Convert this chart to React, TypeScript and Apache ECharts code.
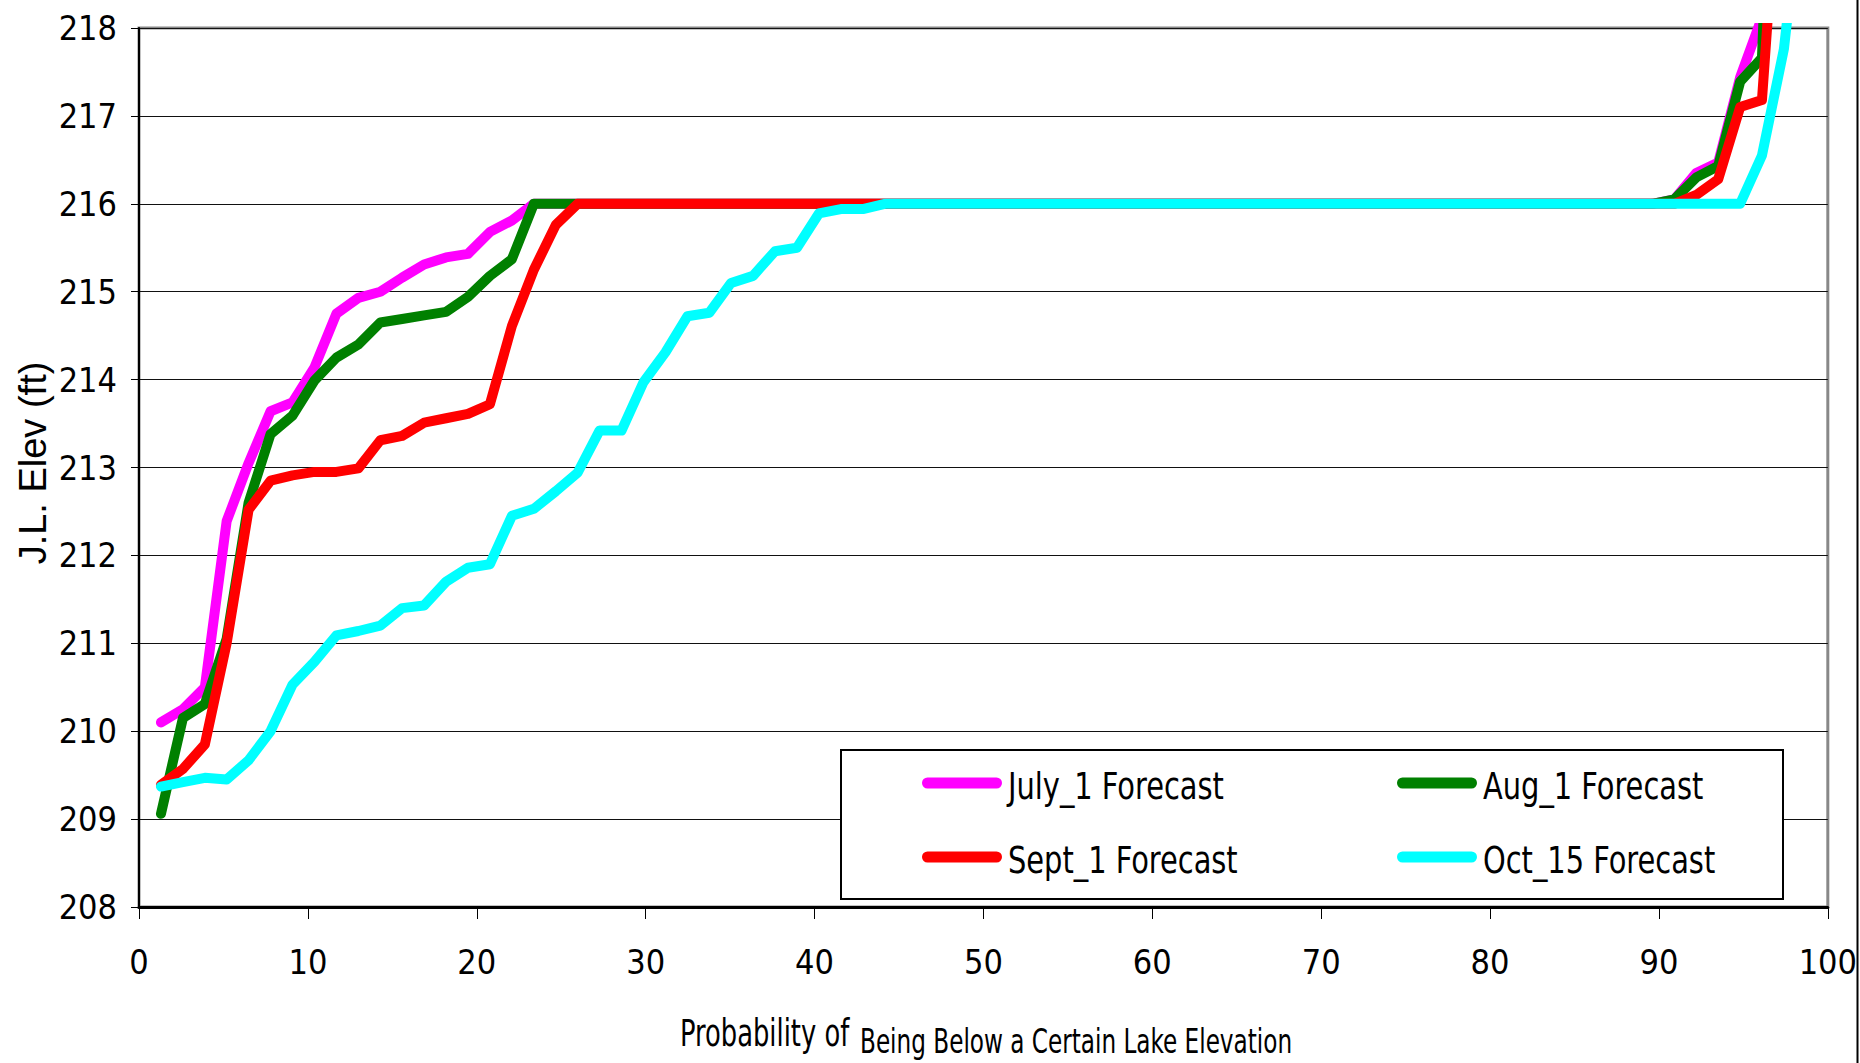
import React, { useEffect, useRef } from "react";
import * as echarts from "echarts";

// Probability of being below (plotting positions, %)
const PROBABILITY = [
  1.3, 2.6, 3.9, 5.19, 6.49, 7.79, 9.09, 10.39, 11.69, 12.99,
  14.29, 15.58, 16.88, 18.18, 19.48, 20.78, 22.08, 23.38, 24.68, 25.97,
  27.27, 28.57, 29.87, 31.17, 32.47, 33.77, 35.06, 36.36, 37.66, 38.96,
  40.26, 41.56, 42.86, 44.16, 45.45, 46.75, 48.05, 49.35, 50.65, 51.95,
  53.25, 54.55, 55.84, 57.14, 58.44, 59.74, 61.04, 62.34, 63.64, 64.94,
  66.23, 67.53, 68.83, 70.13, 71.43, 72.73, 74.03, 75.32, 76.62, 77.92,
  79.22, 80.52, 81.82, 83.12, 84.42, 85.71, 87.01, 88.31, 89.61, 90.91,
  92.21, 93.51, 94.81, 96.1, 97.4, 98.7,
];

const JULY_1 = [
  210.1, 210.25, 210.5, 212.39, 213.05, 213.64, 213.74, 214.14, 214.75, 214.93,
  215.0, 215.16, 215.31, 215.39, 215.43, 215.68, 215.81, 216, 216, 216,
  216, 216, 216, 216, 216, 216, 216, 216, 216, 216,
  216, 216, 216, 216, 216, 216, 216, 216, 216, 216,
  216, 216, 216, 216, 216, 216, 216, 216, 216, 216,
  216, 216, 216, 216, 216, 216, 216, 216, 216, 216,
  216, 216, 216, 216, 216, 216, 216, 216, 216, 216.05,
  216.35, 216.47, 217.44, 218.12, 221, 224,
];

const AUG_1 = [
  209.06, 210.15, 210.31, 211.05, 212.6, 213.38, 213.59, 213.99, 214.25, 214.4,
  214.65, 214.69, 214.73, 214.77, 214.94, 215.18, 215.37, 216, 216, 216,
  216, 216, 216, 216, 216, 216, 216, 216, 216, 216,
  216, 216, 216, 216, 216, 216, 216, 216, 216, 216,
  216, 216, 216, 216, 216, 216, 216, 216, 216, 216,
  216, 216, 216, 216, 216, 216, 216, 216, 216, 216,
  216, 216, 216, 216, 216, 216, 216, 216, 216, 216.05,
  216.3, 216.43, 217.39, 217.66, 224, 230,
];

const SEPT_1 = [
  209.39, 209.57, 209.85, 211.0, 212.52, 212.85, 212.91, 212.95, 212.95, 212.99,
  213.31, 213.36, 213.51, 213.56, 213.61, 213.72, 214.61, 215.25, 215.76, 216,
  216, 216, 216, 216, 216, 216, 216, 216, 216, 216,
  216, 216, 216, 216, 216, 216, 216, 216, 216, 216,
  216, 216, 216, 216, 216, 216, 216, 216, 216, 216,
  216, 216, 216, 216, 216, 216, 216, 216, 216, 216,
  216, 216, 216, 216, 216, 216, 216, 216, 216, 216,
  216.1, 216.28, 217.1, 217.18, 220.7, 224,
];

const OCT_15 = [
  209.37, 209.42, 209.47, 209.45, 209.67, 210.0, 210.53, 210.79, 211.09, 211.14,
  211.2, 211.4, 211.43, 211.7, 211.86, 211.9, 212.45, 212.53, 212.73, 212.94,
  213.42, 213.42, 213.97, 214.31, 214.72, 214.76, 215.1, 215.18, 215.46, 215.5,
  215.89, 215.94, 215.94, 216, 216, 216, 216, 216, 216, 216,
  216, 216, 216, 216, 216, 216, 216, 216, 216, 216,
  216, 216, 216, 216, 216, 216, 216, 216, 216, 216,
  216, 216, 216, 216, 216, 216, 216, 216, 216, 216,
  216, 216, 216, 216.55, 217.76, 220,
];

const SERIES_NAMES = ["July_1 Forecast", "Aug_1 Forecast", "Sept_1 Forecast", "Oct_15 Forecast"];
const SERIES_VALUES = [JULY_1, AUG_1, SEPT_1, OCT_15];
const SERIES_COLORS = ["#FF00FF", "#008000", "#FF0000", "#00FFFF"];

const Y_TITLE = "J.L. Elev (ft)";
const X_TITLE_A = "Probability of";
const X_TITLE_B = "Being Below a Certain Lake Elevation";

const NARROW = "'Liberation Sans Narrow', 'Arial Narrow', 'DejaVu Sans Condensed', sans-serif";
const SANS = "'Liberation Sans', Arial, sans-serif";

export default function App() {
  const ref = useRef<HTMLDivElement>(null);

  useEffect(() => {
    document.body.style.margin = "0";
    if (!ref.current) return;
    const chart = echarts.init(ref.current, undefined, { renderer: "svg" });

    // legend slots: [icon left, row centre y]
    const legendSlots = [
      [922, 783],
      [1397, 783],
      [922, 857],
      [1397, 857],
    ];

    const legendGraphics: any[] = [];
    SERIES_NAMES.forEach((name, i) => {
      const [lx, cy] = legendSlots[i];
      legendGraphics.push({
        type: "rect",
        z: 4,
        shape: { x: lx, y: cy - 5.5, width: 80, height: 11, r: 5.5 },
        style: { fill: SERIES_COLORS[i] },
      });
      legendGraphics.push({
        type: "text",
        z: 4,
        x: lx + 86,
        y: cy + 2,
        scaleX: 0.845,
        style: {
          text: name,
          fontFamily: NARROW,
          fontSize: 38,
          fill: "#000",
          align: "left",
          verticalAlign: "middle",
        },
      });
    });

    chart.setOption({
      animation: false,
      backgroundColor: "#ffffff",
      grid: {
        left: 139,
        right: 31,
        top: 28,
        bottom: 156,
        show: true,
        borderColor: "#888888",
        borderWidth: 3,
        backgroundColor: "transparent",
      },
      xAxis: {
        type: "value",
        min: 0,
        max: 100,
        interval: 10,
        axisLine: { show: true, onZero: false, lineStyle: { color: "#000", width: 3 } },
        axisTick: { show: true, length: 12, lineStyle: { color: "#000", width: 1 } },
        axisLabel: { fontFamily: NARROW, fontSize: 34, color: "#000", margin: 38 },
        splitLine: { show: false },
      },
      yAxis: {
        type: "value",
        min: 208,
        max: 218,
        interval: 1,
        axisLine: { show: true, onZero: false, lineStyle: { color: "#000", width: 2 } },
        axisTick: { show: true, length: 8, lineStyle: { color: "#000", width: 1 } },
        axisLabel: { fontFamily: NARROW, fontSize: 34, color: "#000", margin: 22 },
        splitLine: { show: true, lineStyle: { color: "#111", width: 1.2 } },
      },
      series: SERIES_NAMES.map((name, i) => ({
        name,
        type: "line",
        data: PROBABILITY.map((p, j) => [p, SERIES_VALUES[i][j]]),
        showSymbol: false,
        symbol: "none",
        clip: true,
        lineStyle: { color: SERIES_COLORS[i], width: 10, cap: "round", join: "round" },
        itemStyle: { color: SERIES_COLORS[i] },
        emphasis: { disabled: true },
      })),
      graphic: [
        {
          type: "rect",
          z: 3,
          shape: { x: 841, y: 750, width: 942, height: 149 },
          style: { fill: "#ffffff", stroke: "#000000", lineWidth: 2 },
        },
        ...legendGraphics,
        {
          type: "line",
          z: 3,
          shape: { x1: 1857.5, y1: 0, x2: 1857.5, y2: 1063 },
          style: { stroke: "#000000", lineWidth: 2 },
        },
        {
          type: "text",
          z: 3,
          x: 33,
          y: 463,
          rotation: Math.PI / 2,
          style: {
            text: Y_TITLE,
            fontFamily: SANS,
            fontSize: 38,
            fill: "#000",
            align: "center",
            verticalAlign: "middle",
          },
        },
        {
          type: "text",
          z: 3,
          x: 680,
          y: 1052,
          scaleX: 0.775,
          style: {
            text: X_TITLE_A,
            fontFamily: NARROW,
            fontSize: 37,
            fill: "#000",
            align: "left",
            verticalAlign: "bottom",
          },
        },
        {
          type: "text",
          z: 3,
          x: 860,
          y: 1058,
          scaleX: 0.78,
          style: {
            text: X_TITLE_B,
            fontFamily: NARROW,
            fontSize: 33,
            fill: "#000",
            align: "left",
            verticalAlign: "bottom",
          },
        },
      ],
    });

    return () => chart.dispose();
  }, []);

  return <div ref={ref} style={{ width: 1860, height: 1063 }} />;
}
